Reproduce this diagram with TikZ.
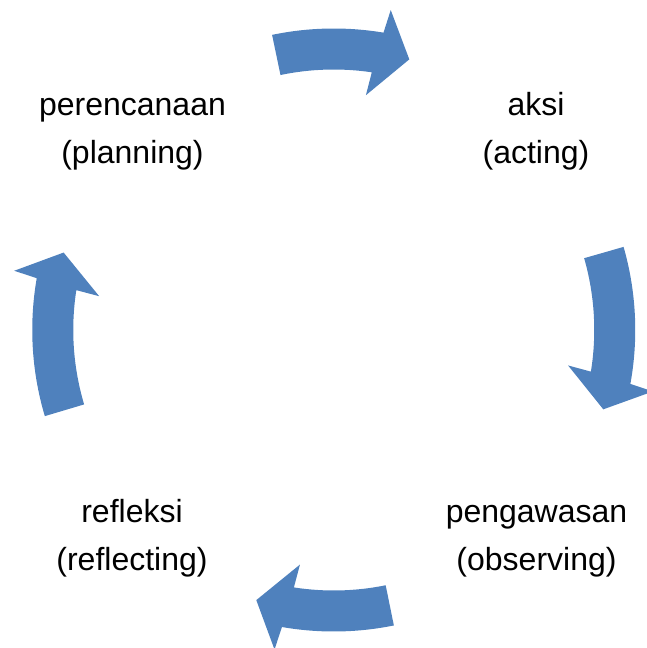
\documentclass[tikz,border=0pt]{standalone}
\usepackage{fontspec}
\setmainfont{Liberation Sans}
\definecolor{cyclblue}{HTML}{4F81BD}
\begin{document}
\begin{tikzpicture}[x=1pt, y=1pt,
    cyclarrow/.style={fill=cyclblue, draw=none},
    cycllabel/.style={align=center, inner sep=0pt, font=\fontsize{32}{48}\selectfont}]
            \useasboundingbox (-333.75,-318) rectangle (312.25,330);
            % curved block arrows, tail angle / tip angle
            \foreach \tail/\tip in {101.8/74.4, 16/-16.4, -78.5/-106, 196.6/164}
                \fill[cyclarrow] (\tail:301.5pt) arc[start angle=\tail, end angle={\tip+6.1}, radius=301.5pt]
                    -- ({\tip+5.5}:325pt) -- (\tip:281pt) -- ({\tip+7.8}:237pt) -- ({\tip+7.2}:260.5pt)
                    arc[start angle={\tip+7.2}, end angle=\tail, radius=260.5pt] -- cycle;
            \node[cycllabel] (plan) at (-201.25,199.6) {\strut perencanaan\\\strut (planning)};
            \node[cycllabel] (act) at (202.25,199.6) {\strut aksi\\\strut (acting)};
            \node[cycllabel] (obs) at (202.75,-206.4) {\strut pengawasan\\\strut (observing)};
            \node[cycllabel] (refl) at (-201.75,-206.4) {\strut refleksi\\\strut (reflecting)};
        \end{tikzpicture}
\end{document}
